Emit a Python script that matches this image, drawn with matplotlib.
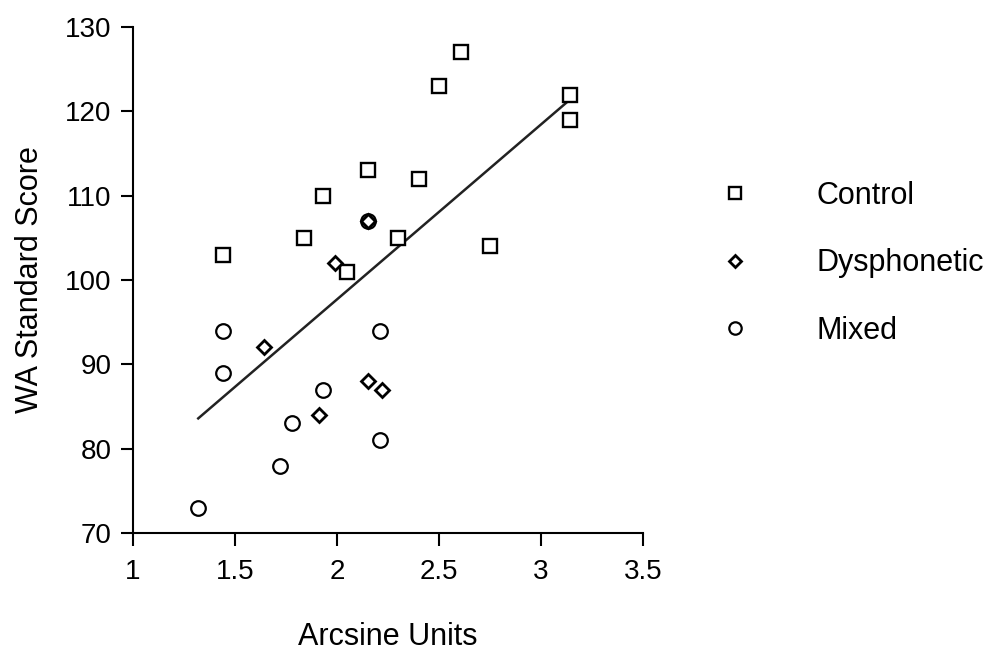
import matplotlib
matplotlib.use("Agg")
import matplotlib.pyplot as plt
import numpy as np

plt.rcParams['font.family'] = ['Liberation Sans', 'DejaVu Sans']

# data
control_x = [1.44, 1.84, 1.93, 2.05, 2.15, 2.30, 2.40, 2.50, 2.61, 2.75, 3.14, 3.14]
control_y = [103, 105, 110, 101, 113, 105, 112, 123, 127, 104, 122, 119]

dysph_x = [1.64, 1.91, 1.99, 2.15, 2.15, 2.22]
dysph_y = [92, 84, 102, 107, 88, 87]

mixed_x = [1.32, 1.44, 1.44, 1.72, 1.78, 1.93, 2.15, 2.21, 2.21]
mixed_y = [73, 94, 89, 78, 83, 87, 107, 94, 81]

xticks = [1, 1.5, 2, 2.5, 3, 3.5]
xticklabels = ['1', '1.5', '2', '2.5', '3', '3.5']
yticks = [70, 80, 90, 100, 110, 120, 130]

fig = plt.figure(figsize=(9.93, 6.52), dpi=100)
ax = fig.add_axes([0.1339, 0.1825, 0.5136, 0.776])

ax.plot(control_x, control_y, 's', ms=10.5, mfc='white', mec='black', mew=1.7,
        label='Control', linestyle='none', clip_on=False)
ax.plot(mixed_x, mixed_y, 'o', ms=10.5, mfc='white', mec='black', mew=1.6,
        label='Mixed', linestyle='none', clip_on=False)
ax.plot(dysph_x, dysph_y, 'D', ms=7.5, mfc='white', mec='black', mew=2,
        label='Dysphonetic', linestyle='none', clip_on=False)

# regression line over all points
all_x = np.array(control_x + dysph_x + mixed_x)
all_y = np.array(control_y + dysph_y + mixed_y)
b, a = np.polyfit(all_x, all_y, 1)
lx = np.array([all_x.min(), all_x.max()])
ax.plot(lx, a + b * lx, color='#222222', lw=1.8, zorder=1)

ax.set_xlim(1, 3.5)
ax.set_ylim(70, 130)
ax.spines['right'].set_visible(False)
ax.spines['top'].set_visible(False)
for s in ['left', 'bottom']:
    ax.spines[s].set_linewidth(1.5)
ax.set_xticks(xticks)
ax.set_xticklabels(xticklabels)
ax.set_yticks(yticks)
ax.tick_params(axis='x', length=9, width=1.5, labelsize=20, pad=10)
ax.tick_params(axis='y', length=8.5, width=1.5, labelsize=20, pad=7)

ax.set_xlabel('Arcsine Units', fontsize=22, labelpad=26)
ax.set_ylabel('WA Standard Score', fontsize=22, labelpad=14)

handles, labels = ax.get_legend_handles_labels()
order = [0, 2, 1]
leg = ax.legend([handles[i] for i in order], [labels[i] for i in order],
                loc='upper left', bbox_to_anchor=(1.096, 0.75), frameon=False,
                fontsize=22, handletextpad=2.18, labelspacing=1.22,
                handlelength=1, markerscale=0.85)

fig.savefig('out.png', dpi=100)
